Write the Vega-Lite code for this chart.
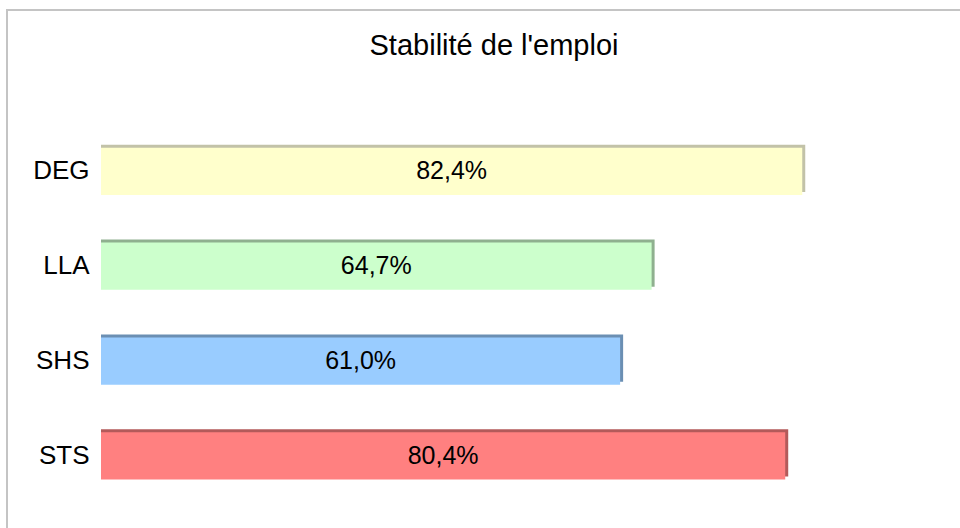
{
  "$schema": "https://vega.github.io/schema/vega-lite/v6.json",
  "autosize": "none",
  "padding": {"left": 7, "top": 10, "right": 0, "bottom": 0},
  "width": 956,
  "height": 521,
  "background": "white",
  "config": {
    "view": {"stroke": "#c4c4c4", "strokeWidth": 2},
    "font": "Liberation Sans"
  },
  "title": {
    "text": "Stabilité de l'emploi",
    "anchor": "middle",
    "frame": "group",
    "orient": "top",
    "baseline": "alphabetic",
    "offset": -74,
    "dx": 9,
    "fontSize": 29,
    "fontWeight": "normal",
    "font": "Liberation Sans",
    "color": "#000000"
  },
  "data": {
    "values": [
      {"cat": "DEG", "value": 82.4},
      {"cat": "LLA", "value": 64.7},
      {"cat": "SHS", "value": 61.0},
      {"cat": "STS", "value": 80.4}
    ]
  },
  "transform": [
    {"calculate": "datum.value / 2", "as": "mid"},
    {"calculate": "replace(format(datum.value, '.1f'), '.', ',') + '%'", "as": "label"}
  ],
  "encoding": {
    "y": {
      "field": "cat",
      "type": "nominal",
      "sort": ["DEG", "LLA", "SHS", "STS"],
      "scale": {"paddingInner": 0.5018, "paddingOuter": 0.997, "align": 0.728},
      "axis": {
        "orient": "left",
        "offset": -94,
        "domain": false,
        "ticks": false,
        "tickSize": 0,
        "labelPadding": 12,
        "labelFontSize": 26,
        "labelColor": "#000000",
        "labelFont": "Liberation Sans",
        "title": null,
        "grid": false
      }
    }
  },
  "layer": [
    {
      "mark": {"type": "bar", "xOffset": 3, "yOffset": -3},
      "encoding": {
        "x": {"field": "value", "type": "quantitative", "scale": {"domain": [-11.046, 101.29], "zero": false, "nice": false}, "axis": null},
        "x2": {"datum": 0},
        "color": {
          "field": "cat",
          "type": "nominal",
          "scale": {"domain": ["DEG", "LLA", "SHS", "STS"], "range": ["#C2C2A8", "#8FB08F", "#6B8FB3", "#B35A5A"]},
          "legend": null
        }
      }
    },
    {
      "mark": {"type": "bar"},
      "encoding": {
        "x": {"field": "value", "type": "quantitative"},
        "x2": {"datum": 0},
        "fill": {
          "field": "cat",
          "type": "nominal",
          "scale": {"domain": ["DEG", "LLA", "SHS", "STS"], "range": ["#FFFFCC", "#CCFFCC", "#99CCFF", "#FF8080"]},
          "legend": null
        }
      }
    },
    {
      "mark": {"type": "text", "fontSize": 25, "font": "Liberation Sans", "color": "#000000", "align": "center", "baseline": "middle"},
      "encoding": {
        "x": {"field": "mid", "type": "quantitative"},
        "text": {"field": "label"}
      }
    }
  ]
}
